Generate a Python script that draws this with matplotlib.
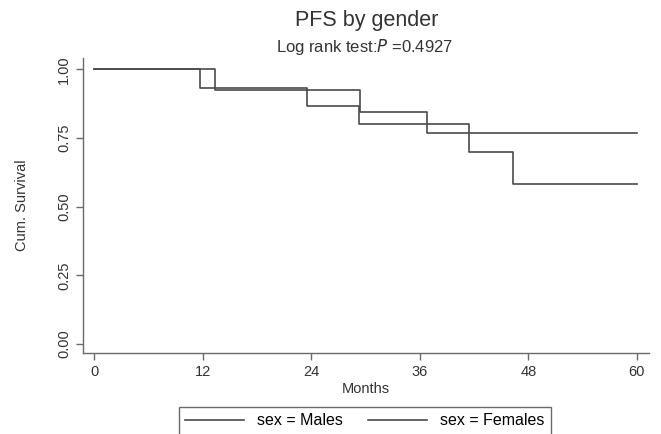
import matplotlib
matplotlib.use('Agg')
import matplotlib.pyplot as plt

plt.rcParams['font.family'] = ['Liberation Sans', 'DejaVu Sans']

# Kaplan-Meier step data
male_months = [0, 11.7, 23.5, 29.3, 41.4, 46.3, 60]
male_surv = [1.0, 0.933, 0.867, 0.800, 0.700, 0.583, 0.583]
female_months = [0, 13.4, 29.4, 36.8, 60]
female_surv = [1.0, 0.923, 0.846, 0.769, 0.769]

x_ticks = [0, 12, 24, 36, 48, 60]
y_ticks = [0.00, 0.25, 0.50, 0.75, 1.00]
y_ticklabels = ['0.00', '0.25', '0.50', '0.75', '1.00']

line_color = '#4a4a4a'
axis_color = '#6a6a6a'

fig = plt.figure(figsize=(6.61, 4.34), dpi=100)
ax = fig.add_axes([0.1256, 0.1866, 0.8563, 0.6798])

ax.step(male_months, male_surv, where='post', color=line_color, lw=1.2, label='sex = Males')
ax.step(female_months, female_surv, where='post', color=line_color, lw=1.2, label='sex = Females')

ax.set_xlim(-1.25, 61.36)
ax.set_ylim(-0.033, 1.041)
ax.set_xticks(x_ticks)
ax.set_yticks(y_ticks)
ax.set_yticklabels(y_ticklabels, rotation=90, va='center')

for s in ['top', 'right']:
    ax.spines[s].set_visible(False)
for s in ['left', 'bottom']:
    ax.spines[s].set_color(axis_color)
    ax.spines[s].set_linewidth(1.0)
ax.tick_params(colors=axis_color, labelcolor='#333333', labelsize=10.5, length=5, width=1.0)

ax.set_xlabel('Months', fontsize=10.5, color='#333333', labelpad=2)
ax.set_ylabel('Cum. Survival', fontsize=10.5, color='#333333', labelpad=20)

fig.text(0.554, 0.953, 'PFS by gender', ha='center', va='center', fontsize=15.5, color='#333333')
fig.text(0.551, 0.892, 'Log rank test:$\\mathit{P}$ =0.4927', ha='center', va='center', fontsize=12, color='#333333')

fig.legend(loc='upper center', bbox_to_anchor=(0.552, 1 - 407 / 434), ncol=2, frameon=True,
           fancybox=False, edgecolor=axis_color, fontsize=11.5, handlelength=3.7,
           columnspacing=1.6, borderaxespad=0, borderpad=0.4, framealpha=1)

plt.savefig('out.png', dpi=100)
